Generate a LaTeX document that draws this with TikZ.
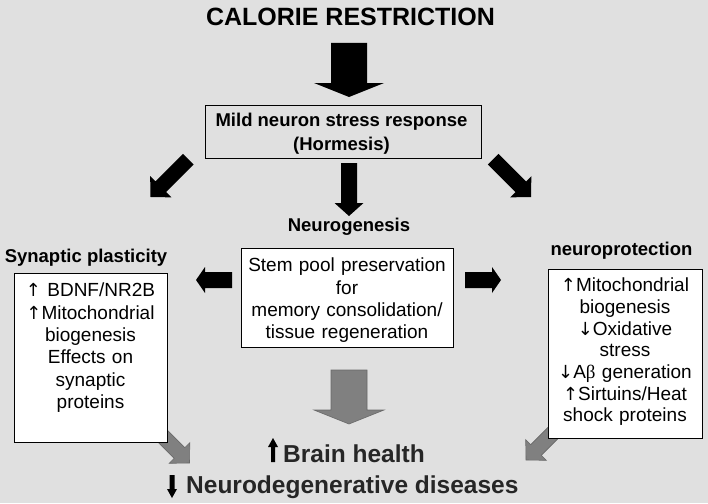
\documentclass[tikz,border=0pt]{standalone}
\usepackage{fontspec}
\setmainfont{Liberation Sans}
\newfontfamily\grk{Liberation Serif}
\newfontfamily\arw{DejaVu Sans}
\newcommand{\upa}{{\arw\fontsize{18}{21}\selectfont ↑}}
\newcommand{\dna}{{\arw\fontsize{18}{21}\selectfont ↓}}
\definecolor{bgc}{RGB}{224,224,224}
\definecolor{garr}{RGB}{128,128,128}
\definecolor{garrline}{RGB}{105,105,105}
\tikzset{
  barrow/.style={fill=black},
  garrow/.style={fill=garr,draw=garrline,line width=0.6pt,line join=miter},
  framebox/.style={draw=black,line width=0.9pt,inner sep=0pt},
  wbox/.style={framebox,fill=white},
  boxtext/.style={inner sep=0pt,text width=#1,align=center,font=\fontsize{19}{22.3}\selectfont},
  boxtextr/.style={inner sep=0pt,text width=#1,align=center,font=\fontsize{19}{21.7}\selectfont},
  boldlab/.style={inner sep=0pt,font=\bfseries\fontsize{18.5}{24}\selectfont},
  biglab/.style={inner sep=0pt,font=\bfseries\fontsize{24.5}{28}\selectfont,text=black!85},
}
\begin{document}
\begin{tikzpicture}[x=1pt,y=-1pt]
\fill[bgc] (0,0) rectangle (708,503);
\useasboundingbox (0,0) rectangle (708,503);

% title
\node[inner sep=0pt,anchor=base,font=\bfseries\fontsize{25}{30}\selectfont] (title) at (350.5,26) {CALORIE RESTRICTION};

% top arrow
\fill[barrow] (331,43) -- (367,43) -- (367,83) -- (384,83) -- (349,97) -- (314,83) -- (331,83) -- cycle;

% hormesis box
\node[framebox,fill=bgc,minimum width=276pt,minimum height=53pt,anchor=north west] (hbox) at (205,105) {};
\node[boldlab,align=center,anchor=north] (htext) at (341.5,109.7) {\strut Mild neuron stress response\\(Hormesis)};

% three black arrows from hormesis box
\fill[barrow] (183.05,153.85) -- (193.65,164.45) -- (166.05,192.05) -- (171.35,197.35) -- (150.5,197) -- (150.15,176.15) -- (155.45,181.45) -- cycle;
\fill[barrow] (341,163) -- (357,163) -- (357,203) -- (363.5,203) -- (349,216) -- (334.5,203) -- (341,203) -- cycle;
\fill[barrow] (487.85,164.45) -- (498.45,153.85) -- (526.05,181.45) -- (531.35,176.15) -- (531,197) -- (510.15,197.35) -- (515.45,192.05) -- cycle;

% labels
\node[boldlab,anchor=base] (neurog) at (349,231) {Neurogenesis};
\node[boldlab,anchor=base] (synlab) at (86,262) {Synaptic plasticity};
\node[boldlab,anchor=base] (protlab) at (621.5,255) {neuroprotection};

% grey diagonal arrows (behind boxes)
\filldraw[garrow] (162.8,425.7) -- (184.8,447.7) -- (189.8,442.7) -- (189.5,463) -- (169.2,463.3) -- (174.2,458.3) -- (152.2,436.3) -- cycle;
\filldraw[garrow] (563.3,433.3) -- (541.3,455.3) -- (546.3,460.3) -- (526,460) -- (525.7,439.7) -- (530.7,444.7) -- (552.7,422.7) -- cycle;

% boxes
\node[wbox,minimum width=153pt,minimum height=169pt,anchor=north west] (lbox) at (14,273) {};
\node[boxtext=150pt,anchor=north] (ltext) at (90.5,281) {\strut\upa\ BDNF/NR2B\\\upa Mitochondrial\\biogenesis\\Effects on\\synaptic\\proteins};

\node[wbox,minimum width=212pt,minimum height=99pt,anchor=north west] (mbox) at (241,248) {};
\node[boxtext=210pt,anchor=north] (mtext) at (347,256) {\strut Stem pool preservation\\for\\memory consolidation/\\tissue regeneration};

\node[wbox,minimum width=154pt,minimum height=169pt,anchor=north west] (rbox) at (548,269) {};
\node[boxtextr=152pt,anchor=north] (rtext) at (625,276.4) {\strut\upa Mitochondrial\\biogenesis\\\dna Oxidative\\stress\\\dna A{\grk β} generation\\\upa Sirtuins/Heat\\shock proteins};

% horizontal black arrows
\fill[barrow] (232,272) -- (205,272) -- (205,267) -- (196,280) -- (205,293) -- (205,288) -- (232,288) -- cycle;
\fill[barrow] (465,272) -- (492,272) -- (492,267) -- (501,280) -- (492,293) -- (492,288) -- (465,288) -- cycle;

% grey down arrow
\filldraw[garrow] (331,370) -- (367,370) -- (367,410) -- (384,410) -- (349,424) -- (314,410) -- (331,410) -- cycle;

% bottom outcome
\fill[black] (271,462) -- (275,462) -- (275,447) -- (278,447) -- (273,438) -- (268,447) -- (271,447) -- cycle;
\node[biglab,anchor=base west] (brain) at (283,462) {Brain health};
\fill[black] (169.5,475) -- (174.5,475) -- (174.5,489) -- (177,489) -- (172,498) -- (167,489) -- (169.5,489) -- cycle;
\node[biglab,anchor=base west] (neurodeg) at (186,493) {Neurodegenerative diseases};
\end{tikzpicture}
\end{document}
